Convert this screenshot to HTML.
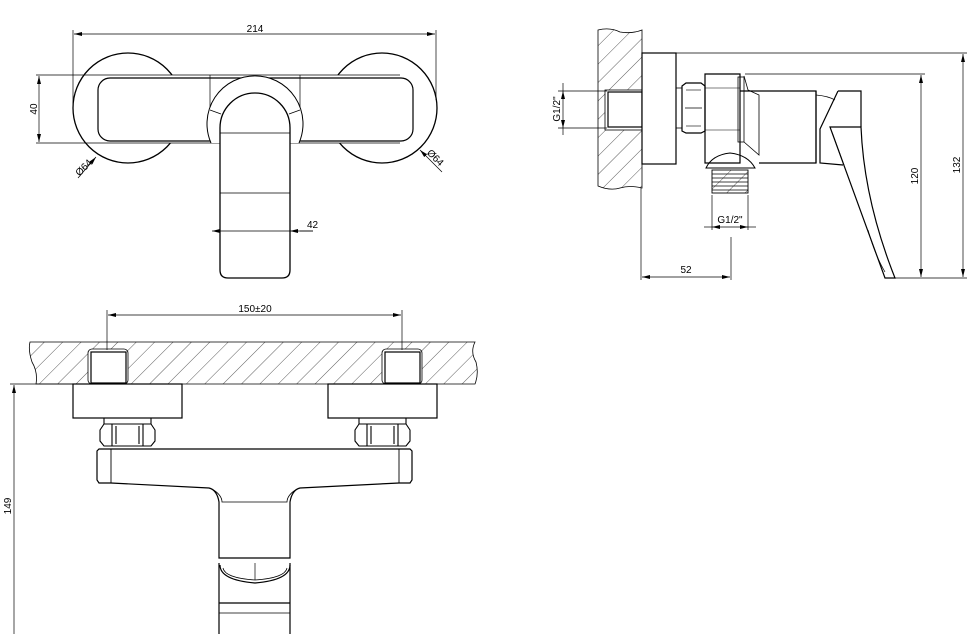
<!DOCTYPE html>
<html><head><meta charset="utf-8"><style>
html,body{margin:0;padding:0;background:#fff;}
svg{display:block;}
text{font-family:"Liberation Sans",sans-serif;font-size:10px;fill:#000;}
</style></head><body>
<svg width="976" height="634" viewBox="0 0 976 634" xmlns="http://www.w3.org/2000/svg">
<defs>
<pattern id="h" patternUnits="userSpaceOnUse" width="13" height="13" patternTransform="rotate(45)">
<line x1="0" y1="0" x2="0" y2="13" stroke="#333" stroke-width="0.8"/>
</pattern>
<marker id="a" markerWidth="8" markerHeight="6" refX="8" refY="3" orient="auto-start-reverse" markerUnits="userSpaceOnUse"><path d="M0,1 L8,3 L0,5 Z" fill="#000"/></marker>
</defs>
<g fill="none" stroke="#000" stroke-width="1">
<!-- TOP-LEFT VIEW -->
<line x1="73" y1="30" x2="73" y2="110" stroke-width="0.7"/>
<line x1="436" y1="30" x2="436" y2="100" stroke-width="0.7"/>
<line x1="74" y1="34" x2="435" y2="34" stroke-width="0.7" marker-start="url(#a)" marker-end="url(#a)"/>
<circle cx="128" cy="108" r="55" stroke-width="1.3"/>
<circle cx="382" cy="108" r="55" stroke-width="1.3"/>
<rect x="97" y="75" width="316" height="68" rx="14" fill="#fff" stroke="none"/>
<line x1="36" y1="75" x2="400" y2="75" stroke-width="0.8"/>
<line x1="36" y1="143" x2="400" y2="143" stroke-width="0.8"/>
<rect x="98" y="78" width="315" height="63" rx="12" stroke-width="1.2"/>
<line x1="39" y1="76" x2="39" y2="142" stroke-width="0.7" marker-start="url(#a)" marker-end="url(#a)"/>
<line x1="210" y1="75" x2="210" y2="140" stroke-width="0.7"/>
<line x1="300" y1="75" x2="300" y2="140" stroke-width="0.7"/>
<path d="M211,143 A48,48 0 1 1 299,143" fill="#fff"/>
<line x1="210" y1="110" x2="221" y2="114" stroke-width="0.7"/>
<line x1="300" y1="110" x2="289" y2="114" stroke-width="0.7"/>
<path d="M220,128 A35,35 0 0 1 290,128 L290,270 Q290,278 282,278 L228,278 Q220,278 220,270 Z" fill="#fff" stroke-width="1.3"/>
<line x1="220" y1="133" x2="290" y2="133" stroke-width="0.8"/>
<line x1="220" y1="193" x2="290" y2="193" stroke-width="0.8"/>
<line x1="212" y1="231" x2="220" y2="231" stroke-width="0.7" marker-start="url(#a)"/>
<line x1="220" y1="231" x2="290" y2="231" stroke-width="0.7"/>
<line x1="290" y1="231" x2="313" y2="231" stroke-width="0.7" marker-start="url(#a)"/>
<line x1="78" y1="178" x2="96" y2="157" stroke-width="0.7" marker-end="url(#a)"/>
<line x1="442" y1="172" x2="420" y2="150" stroke-width="0.7" marker-end="url(#a)"/>

<!-- RIGHT SIDE VIEW -->
<path d="M598,30 Q610,27 620,32 Q632,34 642,30 L642,188 Q630,185 620,188 Q610,191 598,186 Z" fill="url(#h)" stroke-width="0.8"/>
<rect x="605" y="90" width="37" height="40" fill="#fff" stroke-width="0.8"/>
<rect x="608" y="92" width="34" height="35" stroke-width="1.2"/>
<rect x="642" y="53" width="34" height="111" fill="#fff" stroke-width="1.2"/>
<line x1="676" y1="53" x2="967" y2="53" stroke-width="0.8"/>
<rect x="676" y="88" width="6" height="40" stroke-width="0.8"/>
<path d="M682,86 L686,83 L701,83 L705,86 L705,131 L701,133 L686,133 L682,131 Z" stroke-width="1.2"/>
<line x1="685" y1="108" x2="702" y2="108" stroke-width="0.8"/>
<line x1="686" y1="90" x2="701" y2="90" stroke-width="0.6"/>
<line x1="686" y1="126" x2="701" y2="126" stroke-width="0.6"/>
<path d="M705,74 L740,74 L740,163 L705,163 Z" stroke-width="1.2"/>
<line x1="745" y1="74" x2="925" y2="74" stroke-width="0.8"/>
<line x1="705" y1="88" x2="740" y2="88" stroke-width="0.6"/>
<line x1="705" y1="130" x2="740" y2="130" stroke-width="0.6"/>
<rect x="738" y="77" width="6" height="65" stroke-width="0.8"/>
<path d="M744,76 L748,90 L759,95 L759,155 L744,142" stroke-width="0.8"/>
<path d="M740,91 L816,91 L816,163 L759,163" stroke-width="1.2"/>
<line x1="816" y1="91" x2="816" y2="163" stroke-width="1.2"/>
<path d="M816,95 Q828,96 835,100" stroke-width="0.7"/>
<path d="M838,91 L861,91 L861,127 M838,91 L820,129 L820,163 L843,165" stroke-width="1.2"/>
<path d="M830,127 L861,127 Q864,200 895,278 L885,278 Z" stroke-width="1.2"/>
<path d="M832,132 L844,165 M868,230 Q875,255 885,272" stroke-width="0.7"/>
<path d="M706,168 Q712,155 730,153 Q748,155 755,168 Z" stroke-width="1"/>
<rect x="712" y="170" width="36" height="23" fill="url(#h)" stroke-width="0.9"/>
<g stroke-width="0.8"><line x1="712" y1="174" x2="748" y2="174"/><line x1="712" y1="178" x2="748" y2="178"/><line x1="712" y1="182" x2="748" y2="182"/><line x1="712" y1="186" x2="748" y2="186"/><line x1="712" y1="190" x2="748" y2="190"/></g>
<line x1="712" y1="195" x2="712" y2="230" stroke-width="0.7"/>
<line x1="748" y1="195" x2="748" y2="230" stroke-width="0.7"/>
<line x1="704" y1="227" x2="712" y2="227" stroke-width="0.7"/>
<line x1="712" y1="227" x2="748" y2="227" stroke-width="0.7" marker-start="url(#a)" marker-end="url(#a)"/>
<line x1="748" y1="227" x2="756" y2="227" stroke-width="0.7"/>
<line x1="641" y1="188" x2="641" y2="280" stroke-width="0.7"/>
<line x1="731" y1="237" x2="731" y2="280" stroke-width="0.7"/>
<line x1="642" y1="277" x2="730" y2="277" stroke-width="0.7" marker-start="url(#a)" marker-end="url(#a)"/>
<line x1="893" y1="278" x2="967" y2="278" stroke-width="0.8"/>
<line x1="921" y1="75" x2="921" y2="277" stroke-width="0.7" marker-start="url(#a)" marker-end="url(#a)"/>
<line x1="963" y1="54" x2="963" y2="277" stroke-width="0.7" marker-start="url(#a)" marker-end="url(#a)"/>
<line x1="558" y1="91" x2="607" y2="91" stroke-width="0.7"/>
<line x1="558" y1="128" x2="607" y2="128" stroke-width="0.7"/>
<line x1="563" y1="83" x2="563" y2="91" stroke-width="0.7"/>
<line x1="563" y1="91" x2="563" y2="128" stroke-width="0.7" marker-start="url(#a)" marker-end="url(#a)"/>
<line x1="563" y1="128" x2="563" y2="135" stroke-width="0.7"/>

<!-- BOTTOM VIEW -->
<path d="M30,342 L475,342 Q470,352 476,362 Q479,374 475,384 L36,384 Q38,372 32,362 Q28,350 30,342 Z" fill="url(#h)" stroke-width="0.8"/>
<rect x="88" y="349" width="40" height="35" rx="4" fill="#fff" stroke-width="0.8"/>
<rect x="91" y="352" width="35" height="31" stroke-width="1.2"/>
<rect x="382" y="349" width="40" height="35" rx="4" fill="#fff" stroke-width="0.8"/>
<rect x="385" y="352" width="35" height="31" stroke-width="1.2"/>
<line x1="107" y1="310" x2="107" y2="350" stroke-width="0.7"/>
<line x1="402" y1="310" x2="402" y2="350" stroke-width="0.7"/>
<line x1="108" y1="315" x2="401" y2="315" stroke-width="0.7" marker-start="url(#a)" marker-end="url(#a)"/>
<line x1="10" y1="384" x2="73" y2="384" stroke-width="0.7"/>
<rect x="73" y="384" width="109" height="34" stroke-width="1.2"/>
<rect x="328" y="384" width="109" height="34" stroke-width="1.2"/>
<g stroke-width="1.1">
<path d="M104,424 L151,424 L155,430 L155,441 L151,446 L104,446 L100,441 L100,430 Z"/>
<path d="M112,424 L112,446 M143,424 L143,446 M116,426 L116,444 M139,426 L139,444"/>
<path d="M359,424 L406,424 L410,430 L410,441 L406,446 L359,446 L355,441 L355,430 Z"/>
<path d="M367,424 L367,446 M398,424 L398,446 M371,426 L371,444 M394,426 L394,444"/>
<line x1="104" y1="418" x2="104" y2="424"/><line x1="151" y1="418" x2="151" y2="424"/>
<line x1="359" y1="418" x2="359" y2="424"/><line x1="406" y1="418" x2="406" y2="424"/>
</g>
<path d="M99,449 L410,449 L412,451 L412,480 L410,483 L399,483 L300,488 Q292,490 290,502 L290,558 L219,558 L219,502 Q217,490 209,488 L111,483 L99,483 L97,480 L97,451 Z" stroke-width="1.2"/>
<line x1="111" y1="449" x2="111" y2="483" stroke-width="0.9"/>
<line x1="399" y1="449" x2="399" y2="483" stroke-width="0.9"/>
<path d="M212,489 Q222,495 222,502 L287,502 Q287,495 297,489" stroke-width="0.8"/>
<path d="M219,634 L219,563 M290,563 L290,634" stroke-width="1.2"/>
<path d="M220,565 Q220,580 255,583 Q290,580 290,565" stroke-width="1.2"/>
<path d="M223,568 Q225,578 255,580 Q285,578 287,568" stroke-width="0.7"/>
<line x1="255" y1="563" x2="255" y2="580" stroke-width="0.7"/>
<line x1="219" y1="603" x2="290" y2="603" stroke-width="1.2"/>
<line x1="219" y1="613" x2="290" y2="613" stroke-width="0.8"/>
<line x1="14" y1="385" x2="14" y2="634" stroke-width="0.7" marker-start="url(#a)"/>
</g>
<!-- TEXT -->
<text x="255" y="32" text-anchor="middle">214</text>
<text x="307" y="228" text-anchor="start">42</text>
<line x1="300" y1="231" x2="313" y2="231" stroke="#000" stroke-width="0.7"/>
<text transform="translate(37,109) rotate(-90)" text-anchor="middle">40</text>
<text transform="translate(86,170) rotate(-45)" text-anchor="middle">Ø64</text>
<text transform="translate(433,160) rotate(45)" text-anchor="middle">Ø64</text>
<text x="686" y="273" text-anchor="middle">52</text>
<text x="730" y="223" text-anchor="middle">G1/2"</text>
<text transform="translate(560,109) rotate(-90)" text-anchor="middle">G1/2"</text>
<text transform="translate(918,176) rotate(-90)" text-anchor="middle">120</text>
<text transform="translate(960,165) rotate(-90)" text-anchor="middle">132</text>
<text x="255" y="312" text-anchor="middle">150±20</text>
<text transform="translate(11,506) rotate(-90)" text-anchor="middle">149</text>
</svg>
</body></html>
